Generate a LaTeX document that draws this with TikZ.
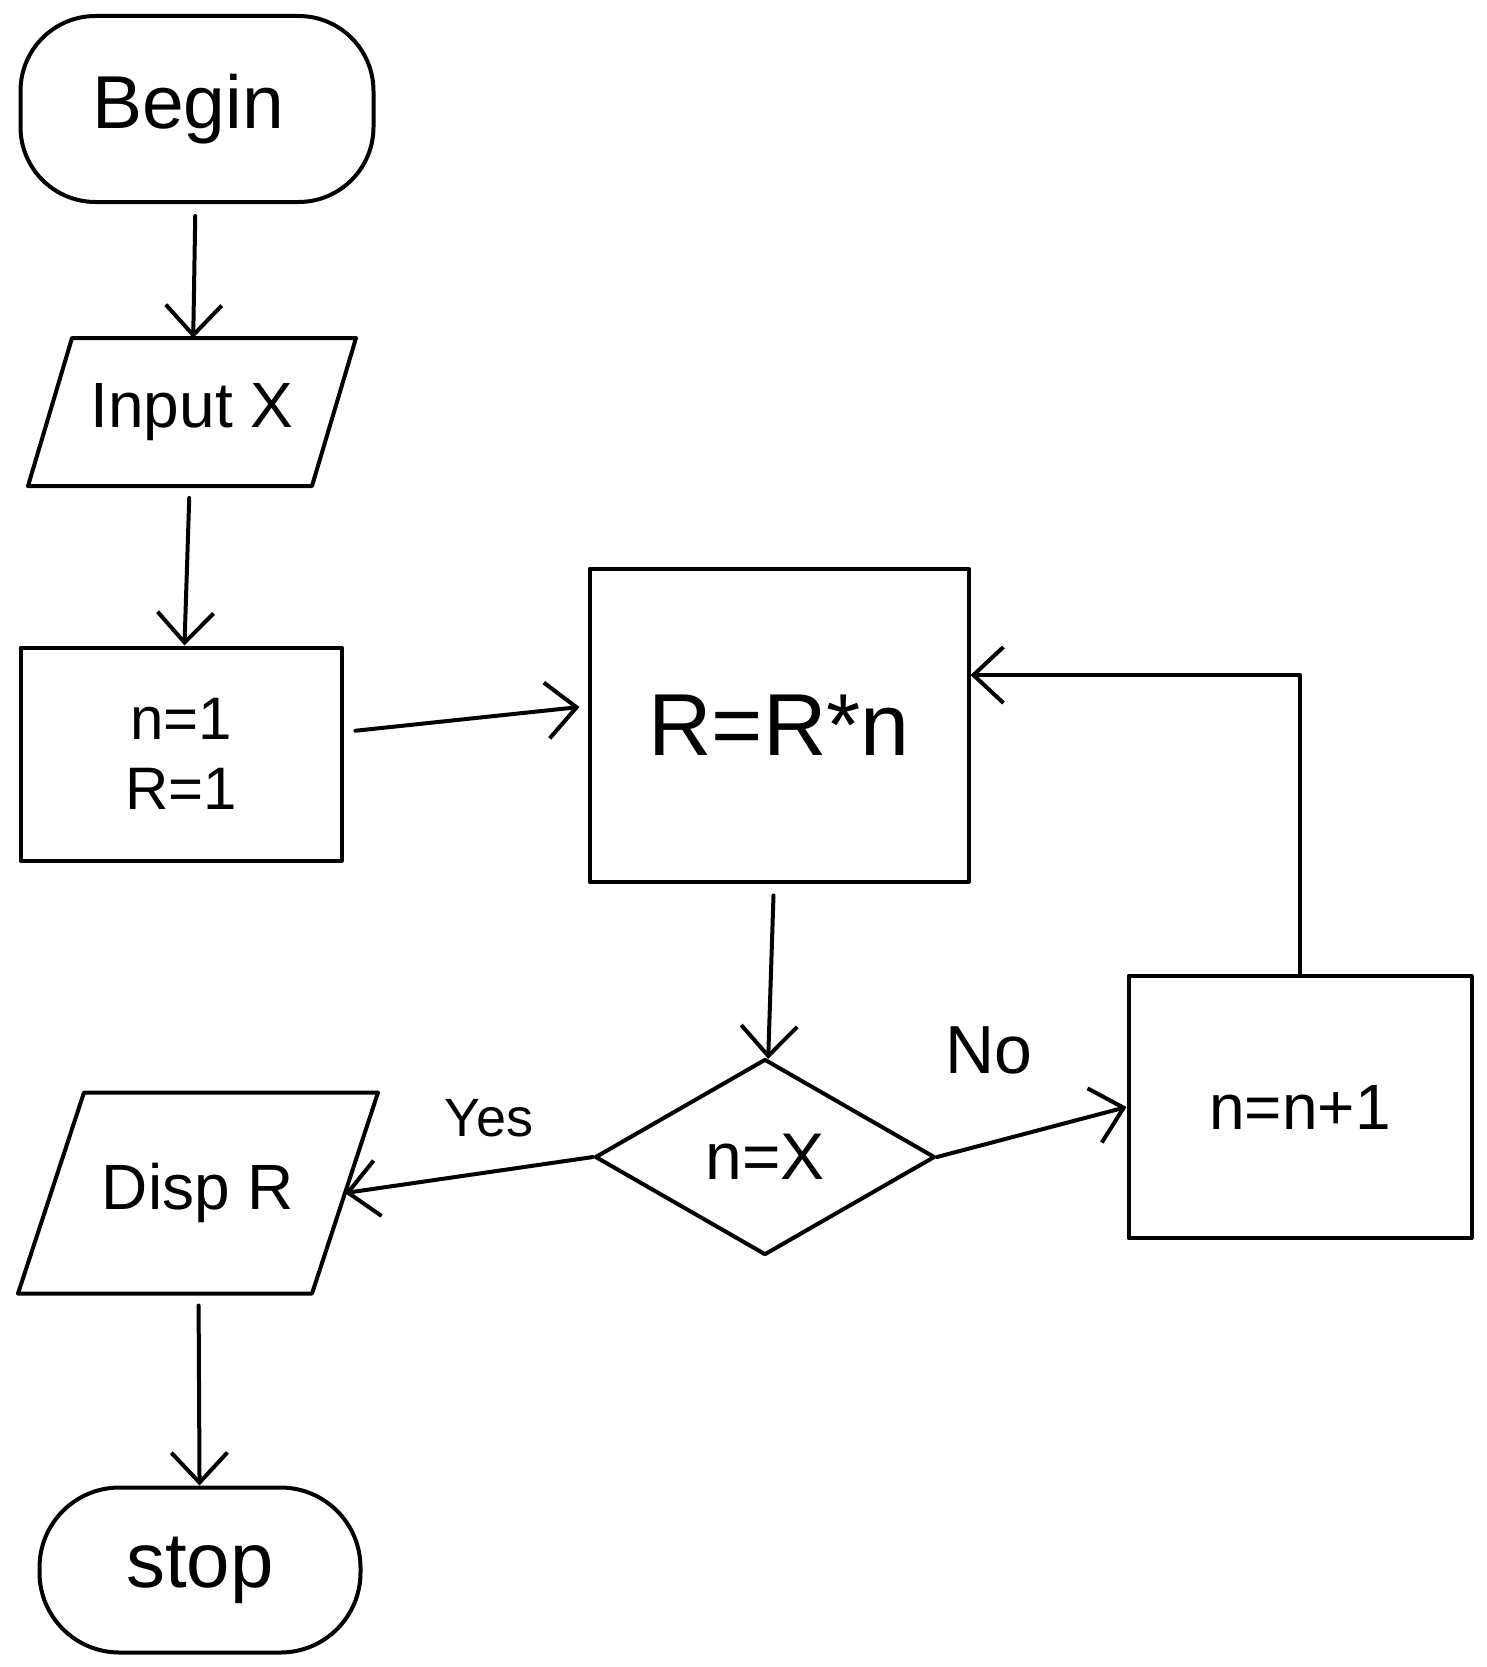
\documentclass[tikz,border=0pt]{standalone}
\usepackage{fontspec}
\setmainfont{Liberation Sans}
\usetikzlibrary{shapes.geometric,arrows.meta,calc}
\begin{document}
\begin{tikzpicture}[x=1pt,y=-1pt,
  line width=4pt, line join=round, line cap=round,
  arr/.style={-{Straight Barb[length=30pt,width=56pt,line width=4pt]}, shorten <=12pt},
  term/.style={draw, rectangle, rounded corners=75pt, inner sep=0pt},
  box/.style={draw, rectangle, inner sep=0pt},
  iobox/.style={rectangle, inner sep=0pt},
  dec/.style={draw, diamond, inner sep=0pt},
  lbl/.style={inner sep=0pt}
]
\useasboundingbox (0,0) rectangle (1486,1667);
\fill[white] (0,0) rectangle (1486,1667);

\node[term, minimum width=353pt, minimum height=186pt, text width=300pt, align=left, font=\fontsize{75}{80}\selectfont] (begin) at (197,109) {\hspace*{45pt}Begin};

% Input X parallelogram
\node[iobox, minimum width=280pt, minimum height=144pt, font=\fontsize{64}{70}\selectfont] (input) at (192,412) {Input X};
\draw ([xshift=-22pt]input.south west) -- ([xshift=22pt]input.north west)
   -- ([xshift=22pt]input.north east) -- ([xshift=-22pt]input.south east) -- cycle;

\node[box, minimum width=321pt, minimum height=213pt, align=center, font=\fontsize{60}{70}\selectfont] (init) at (181,754) {n=1\\R=1};
\node[box, minimum width=379pt, minimum height=313pt, font=\fontsize{88}{95}\selectfont] (calc) at (779,725) {R=R*n};
\node[dec, minimum width=340pt, minimum height=196pt, font=\fontsize{66}{70}\selectfont] (test) at (765,1157) {n=X};
\node[box, minimum width=343pt, minimum height=262pt, font=\fontsize{64}{70}\selectfont] (inc) at (1300,1107) {n=n+1};

% Disp R parallelogram
\node[iobox, minimum width=290pt, minimum height=197pt, font=\fontsize{64}{70}\selectfont] (disp) at (198,1193) {Disp R};
\draw ([xshift=-33pt]disp.south west) -- ([xshift=33pt]disp.north west)
   -- ([xshift=33pt]disp.north east) -- ([xshift=-33pt]disp.south east) -- cycle;

\node[term, rounded corners=80pt, minimum width=321pt, minimum height=165pt, font=\fontsize{78}{80}\selectfont] (stop) at (200,1570) {stop};

\node[lbl, font=\fontsize{54}{58}\selectfont] (yes) at (489,1118) {Yes};
\node[lbl, font=\fontsize{68}{72}\selectfont] (no) at (989,1050) {No};

\draw[arr] (begin) -- (input);
\draw[arr] (input) -- (init);
\draw[arr] ($(init.east)+(0,-22)$) -- ($(calc.west)+(-8,-18)$);
\draw[arr] (calc) -- (test);
\draw[arr, shorten <=0pt] (test.east) -- (inc.west);
\draw[arr, shorten <=0pt] (test.west) -- (disp.east);
\draw[arr, shorten <=0pt] (inc.north) |- ([yshift=50pt]calc.east);
\draw[arr] (disp) -- (stop);
\end{tikzpicture}
\end{document}
